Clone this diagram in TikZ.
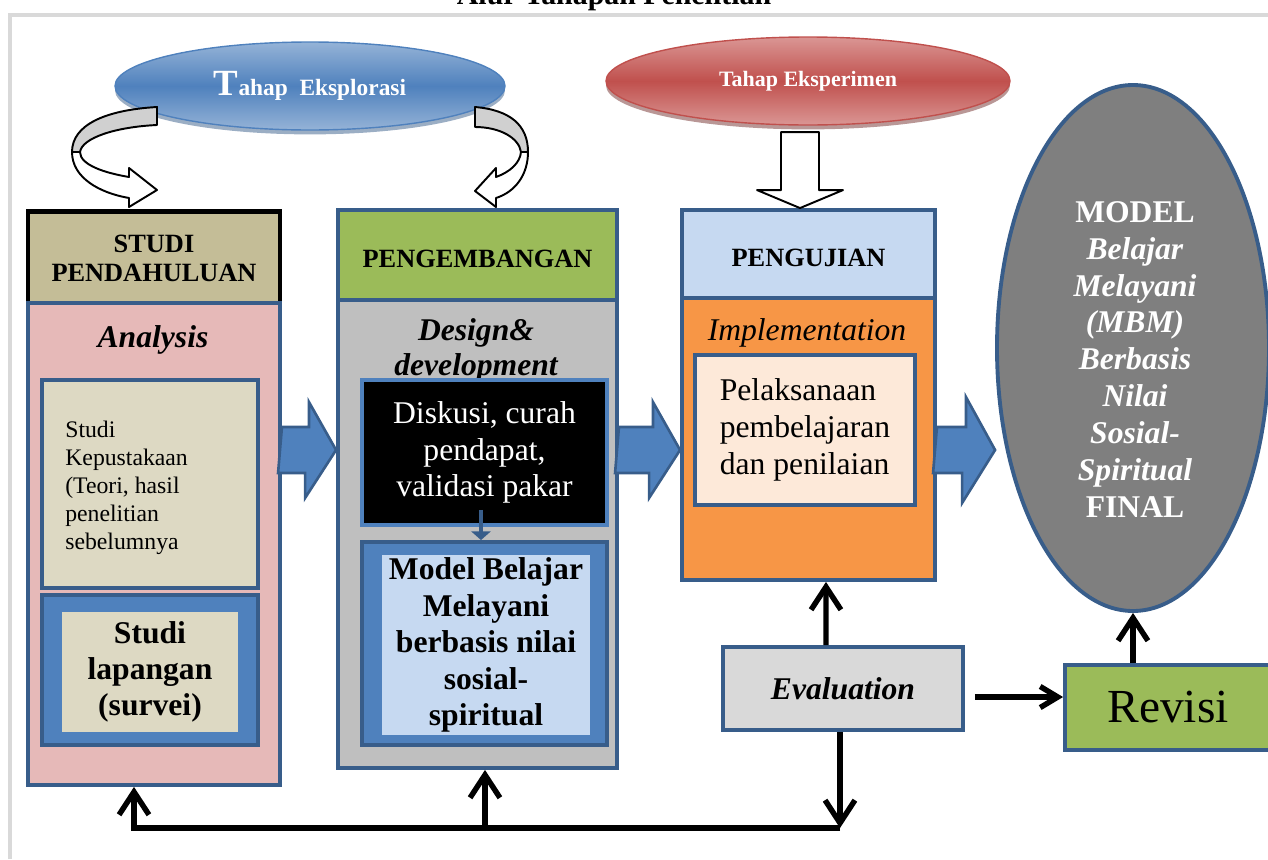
\documentclass[tikz,border=0pt]{standalone}
\usepackage{fontspec}
\setmainfont{Liberation Serif}
\usetikzlibrary{arrows.meta,shapes.geometric,shadows}

\definecolor{tanH}{HTML}{C4BD97}
\definecolor{pinkB}{HTML}{E6B9B8}
\definecolor{beigeB}{HTML}{DDD9C3}
\definecolor{blueM}{HTML}{4F81BD}
\definecolor{blueD}{HTML}{385D8A}
\definecolor{blueL}{HTML}{95B3D7}
\definecolor{greenH}{HTML}{9BBB59}
\definecolor{grayB}{HTML}{BFBFBF}
\definecolor{skyB}{HTML}{C6D9F1}
\definecolor{orangeB}{HTML}{F79646}
\definecolor{peachB}{HTML}{FDE9D9}
\definecolor{evalG}{HTML}{D9D9D9}
\definecolor{grayE}{HTML}{7F7F7F}
\definecolor{redM}{HTML}{C0504D}
\definecolor{redL}{HTML}{DA9694}
\definecolor{curvG}{HTML}{D0D0D0}

\begin{document}
\begin{tikzpicture}[x=0.02cm, y=-0.02cm,
  wh/.style 2 args={minimum width=#1*0.02cm, minimum height=#2*0.02cm},
  box/.style={draw=blueD, line width=2.2pt, inner sep=0pt, align=center},
  hdr/.style={box, font=\fontsize{15}{16.4}\selectfont\bfseries},
  txt/.style={inner sep=0pt, align=center},
  blk/.style={line width=3.1pt, -{Straight Barb[length=13pt,width=17pt]}},
  blockarr/.style={fill=blueM, draw=blueD, line width=1.5pt},
  curv/.style={draw=black, line width=1.1pt, line join=round}]
\useasboundingbox (0,0) rectangle (1268,859);
% page frame and title
\draw[gray!30, line width=2.2pt] (10,859) -- (10,15) -- (1268,15);
\node[txt, anchor=base, font=\fontsize{17}{20}\selectfont\bfseries] (title) at (614,4) {Alur Tahapan Penelitian};

% phase ellipses
\node[ellipse, inner sep=0pt, wh={390}{88}, draw=blueM, line width=0.8pt,
  top color=blueL, bottom color=blueL, middle color=blueM,
  drop shadow={shadow xshift=0pt, shadow yshift=-2.5pt, fill=blueD},
  text=white, font=\fontsize{13.3}{15}\selectfont\bfseries] (explor) at (310,86)
  {{\fontsize{21}{22}\selectfont T}ahap\hspace{0.5em}Eksplorasi};
\node[ellipse, inner sep=0pt, wh={404}{88}, draw=redM, line width=0.8pt,
  top color=redL, bottom color=redL, middle color=redM,
  drop shadow={shadow xshift=0pt, shadow yshift=-2.5pt, fill=redM!60!black},
  text=white, font=\fontsize{12.5}{15}\selectfont\bfseries] (eksper) at (808,81)
  {Tahap Eksperimen};

% curved arrows under Tahap Eksplorasi
\draw[curv, fill=curvG] (157,107) .. controls (105,110) and (72,125) .. (72,152)
  -- (80,152) .. controls (82,138) and (115,127) .. (157,125) -- cycle;
\draw[curv, fill=white] (72,152) .. controls (72,178) and (100,193) .. (129,198)
  -- (129,207) -- (157,190) -- (129,168) -- (129,177)
  .. controls (105,173) and (80,165) .. (80,152) -- cycle;
\draw[curv, fill=curvG] (475,107) .. controls (510,110) and (528,125) .. (528,152)
  -- (521,152) .. controls (519,138) and (500,127) .. (475,127) -- cycle;
\draw[curv, fill=white] (528,152) .. controls (528,175) and (515,192) .. (496,198)
  -- (496,207) -- (475,191) -- (496,168) -- (496,177)
  .. controls (510,172) and (520,163) .. (521,152) -- cycle;

% studi pendahuluan
\node[hdr, draw=black, line width=2.6pt, fill=tanH, wh={252}{93}] (hdrA) at (154,258) {STUDI\\PENDAHULUAN};
\node[box, fill=pinkB, wh={252}{482}] (bodyA) at (154,544) {};
\node[txt, anchor=base, font=\fontsize{18}{20}\selectfont\bfseries\itshape] (anaA) at (153,347) {Analysis};
\node[box, fill=beigeB, wh={216}{208}] (kepA) at (150,484) {};
\node[txt, align=left, anchor=north west, font=\fontsize{13.5}{15.9}\selectfont] (kepTxt) at (65,421)
  {Studi\\Kepustakaan\\(Teori, hasil\\penelitian\\sebelumnya};
\node[box, fill=blueM, wh={216}{150}] (lapA) at (150,670) {};
\node[txt, fill=beigeB, wh={176}{120}, font=\fontsize{18}{20.7}\selectfont\bfseries] (lapIn) at (150,672)
  {Studi\\lapangan\\(survei)};

% pengembangan
\node[hdr, fill=greenH, wh={279}{90}, text height=14.5pt] (hdrB) at (477.5,255) {PENGEMBANGAN};
\node[box, fill=grayB, wh={279}{468}] (bodyB) at (477.5,534) {};
\node[txt, anchor=north, font=\fontsize{18}{19.8}\selectfont\bfseries\itshape] (desB) at (476,318) {Design\&\\development};
\node[box, draw=blueM, fill=black, text=white, wh={245}{145}, font=\fontsize{18}{20.7}\selectfont] (diskB) at (484.5,452.5)
  {Diskusi, curah\\pendapat,\\validasi pakar};
\node[box, fill=blueM, wh={245}{203}] (modelB) at (484.5,643.5) {};
\node[txt, fill=skyB, wh={208}{180}, font=\fontsize{18}{20.8}\selectfont\bfseries] (modelIn) at (486,645)
  {Model Belajar\\Melayani\\berbasis nilai\\sosial-\\spiritual};
\draw[blueD, line width=2.5pt, -{Triangle[length=5pt,width=11pt]}]
  ([xshift=-0.07cm,yshift=0.34cm]diskB.south) -- ([xshift=-0.07cm]modelB.north);

% pengujian
\node[hdr, fill=skyB, wh={253}{88}, text height=14.5pt] (hdrC) at (808.5,254) {PENGUJIAN};
\node[box, fill=orangeB, wh={253}{282}] (bodyC) at (808.5,439) {};
\node[txt, anchor=base, font=\fontsize{18}{20}\selectfont\itshape] (impC) at (807,340) {Implementation};
\node[box, align=left, fill=peachB, wh={220}{150}, font=\fontsize{18}{21}\selectfont] (pelC) at (805,430)
  {Pelaksanaan\\pembelajaran\\dan penilaian};
\draw[curv, fill=white] ([xshift=-0.17cm]hdrC.north) -- ++(-43,-18) -- ++(24,0) -- ++(0,-58)
  -- ++(38,0) -- ++(0,58) -- ++(24,0) -- cycle;

% final model
\node[ellipse, inner sep=0pt, draw=blueD, line width=2.2pt, fill=grayE, wh={272}{526}] (model) at (1133,348) {};
\node[txt, anchor=north, text=white, font=\fontsize{18}{21}\selectfont\bfseries] (modelTxt) at (1135,201)
  {MODEL\\\textit{Belajar}\\\textit{Melayani}\\\textit{(MBM)}\\\textit{Berbasis}\\\textit{Nilai}\\\textit{Sosial-}\\\textit{Spiritual}\\FINAL};

% evaluation and revision
\node[box, fill=evalG, wh={240}{83}, font=\fontsize{18}{20}\selectfont\bfseries\itshape] (evalN) at (843,688.5) {Evaluation};
\node[box, fill=greenH, wh={206}{85}, font=\fontsize{27}{30}\selectfont] (revisi) at (1168,707.5) {Revisi};

% block arrows
\coordinate (midrow) at (0,450);
\draw[blockarr] (bodyA.east |- midrow) ++(0,-23) -- ++(27,0) -- ++(0,-25) -- (bodyB.west |- midrow)
  -- ++(-31,48) -- ++(0,-25) -- ++(-27,0) -- cycle;
\draw[blockarr] (bodyB.east |- midrow) ++(0,-23) -- ++(34,0) -- ++(0,-25) -- (bodyC.west |- midrow)
  -- ++(-31,48) -- ++(0,-25) -- ++(-34,0) -- cycle;
\draw[blockarr] (bodyC.east |- midrow) ++(0,-23) -- ++(29,0) -- ++(0,-30) -- (model.west |- midrow)
  -- ++(-33,53) -- ++(0,-30) -- ++(-29,0) -- cycle;

% feedback arrows
\path ([xshift=0.2cm,yshift=-0.17cm]evalN.east) coordinate (ee);
\coordinate (fb) at (840,828);
\coordinate (fbA) at ([xshift=-0.4cm]bodyA.south);
\coordinate (fbB) at ([xshift=0.15cm]bodyB.south);
\draw[blk] ([xshift=-0.34cm]evalN.north) -- ([xshift=0.35cm]bodyC.south);
\draw[blk, -{Straight Barb[length=10pt,width=12pt]}] (ee) -- (ee -| revisi.west);
\draw[blk] (revisi.north -| model.south) -- (model.south);
\draw[blk] (evalN.south -| fb) -- (fb);
\draw[blk] (fb) -| (fbA);
\draw[blk] (fb -| fbB) -- (fbB);
\end{tikzpicture}
\end{document}
